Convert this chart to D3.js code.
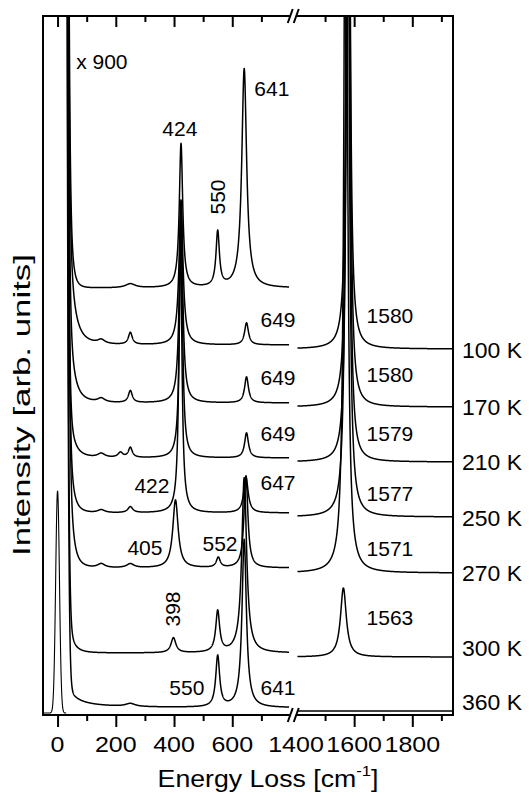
<!DOCTYPE html>
<html>
<head>
<meta charset="utf-8">
<script src="https://cdn.jsdelivr.net/npm/d3@7"></script>
<style>
  body { margin: 0; background: #fff; }
  text { font-family: "Liberation Sans", Arial, Helvetica, sans-serif; fill: #000; }
</style>
</head>
<body>
<svg id="chart" width="529" height="796"></svg>
<script>
// ---- data -------------------------------------------------------------
// Temperature series, stacked from top to bottom
const temperatures = ["100 K", "170 K", "210 K", "250 K", "270 K", "300 K", "360 K"];
// Background level of each spectrum in the low (0-800) and high (1400-1940) windows
const baseLow  = [370, 312, 257, 202, 147, 62, 7];
const baseHigh = [366, 308, 253, 198, 142, 58, 4];
// Quasi-elastic wing: strength at 50 cm-1 and fall-off exponent
const wingAmp = [72, 55, 31, 40, 55, 17, 15];
const wingExp = [3.3, 3.5, 3.4, 4.5, 4.5, 3.5, 1.4];
// Phonon lines per spectrum: [position (cm-1), height, half width (cm-1)]
const peaks = [
  [[150, 4, 15], [250, 12, 8], [424, 145, 8], [649, 22, 8], [1580, 900, 5.5]],
  [[150, 4, 15], [250, 12, 8], [424, 198, 7], [649, 26, 8], [1580, 900, 5.5]],
  [[150, 4, 15], [216, 5, 10], [250, 10, 8], [424, 246, 6], [649, 25, 8], [1579, 900, 5.5]],
  [[150, 3, 15], [250, 6, 10], [422, 283, 6], [647, 36, 9], [1577, 900, 6]],
  [[150, 4, 15], [250, 4, 15], [405, 68, 11], [552, 10, 8], [647, 92, 8], [1571, 900, 6.5]],
  [[398, 15, 10], [550, 41, 8], [641, 175, 10], [1563, 69, 12]],
  [[250, 3, 20], [550, 51, 8], [641, 168, 9]]
];
// Reference spectrum magnified x 900 (low window only)
const refBase = 427;
const refWing = [44, 6];
const refPeaks = [[250, 4, 20], [424, 144, 7], [550, 55, 7], [641, 219, 10]];
// Rayleigh edge shared by all spectra: amplitude and gaussian width (cm-1)
const rayleigh = [30000, 12];
// Laser line profile shown at the bottom: base, height, gaussian width
const laser = [2, 222, 6.5];

// Axis ticks
const lowMajor = [0, 200, 400, 600];
const lowMinor = [100, 300, 500, 700];
const highMajor = [1400, 1600, 1800];
const highMinor = [1500, 1700, 1900];

// Peak annotations: [text, energy (cm-1), intensity level, rotated]
const peakLabels = [
  ["x 900", 152, 654, false],
  ["641", 736, 627, false],
  ["424", 420, 587, false],
  ["550", 548, 518, true],
  ["649", 757, 396, false], ["1580", 1723, 400, false],
  ["649", 757, 338, false], ["1580", 1723, 341, false],
  ["649", 757, 282, false], ["1579", 1723, 282, false],
  ["422", 324, 230, false], ["647", 757, 233, false], ["1577", 1723, 222, false],
  ["405", 300, 168, false], ["552", 558, 172, false], ["1571", 1723, 167, false],
  ["398", 396, 106, true], ["1563", 1723, 98, false],
  ["550", 444, 28, false], ["641", 757, 28, false]
];

// ---- layout -----------------------------------------------------------
const frame = { left: 43, right: 453, top: 16, bottom: 715 };
const breakLow = 290.5, breakHigh = 296;

const xLow = d3.scaleLinear().domain([-50, 800]).range([frame.left, breakLow]);
const xHigh = d3.scaleLinear().domain([1400, 1940]).range([breakHigh, frame.right]);
const xAt = v => (v < 1000 ? xLow(v) : xHigh(v));
const y = d3.scaleLinear().domain([0, 700]).range([715, 15]);

const svg = d3.select("#chart");

svg.append("defs").append("clipPath").attr("id", "plot-clip")
  .append("rect")
  .attr("x", frame.left).attr("y", frame.top)
  .attr("width", frame.right - frame.left).attr("height", frame.bottom - frame.top);

// Text stretched to a given advance width, centred (or left-aligned) on its anchor
function fittedText(parent, x, yPos, width, size, rotate, anchor) {
  const g = parent.append("g")
    .attr("transform", `translate(${x},${yPos})` + (rotate ? ` rotate(${rotate})` : ""));
  const t = g.append("text").attr("font-size", size).attr("text-anchor", anchor || "middle");
  return {
    text: t,
    fit() {
      const w = t.node().getComputedTextLength();
      if (w > 0) t.attr("transform", `scale(${width / w},1)`);
    }
  };
}

// ---- lineshapes --------------------------------------------------------
const lorentz = (v, p) => p[1] * p[2] * p[2] / ((v - p[0]) * (v - p[0]) + p[2] * p[2]);
const edge = v => rayleigh[0] * Math.exp(-(v * v) / (2 * rayleigh[1] * rayleigh[1]));
const wing = (v, a, p) => a * Math.pow(50 / v, p);

function profile(v, base, wa, wp, lines) {
  let s = base + edge(v) + wing(v, wa, wp);
  for (const p of lines) s += lorentz(v, p);
  return s;
}

const lowGrid = d3.range(22, 795.5, 0.5);
const highGrid = d3.range(1405, 1940.5, 0.5);

const line = d3.line().x(d => xAt(d[0])).y(d => y(d[1]));

const traces = svg.append("g").attr("clip-path", "url(#plot-clip)")
  .attr("fill", "none").attr("stroke", "#000").attr("stroke-width", 1.5)
  .attr("stroke-linejoin", "round");

temperatures.forEach((t, i) => {
  const low = lowGrid.map(v => [v, profile(v, baseLow[i], wingAmp[i], wingExp[i], peaks[i])]);
  const high = highGrid.map(v => [v, profile(v, baseHigh[i], 0, 1, peaks[i])]);
  traces.append("path").attr("d", line(low));
  traces.append("path").attr("d", line(high));
});

// magnified reference trace
traces.append("path").attr("d", line(lowGrid.map(v =>
  [v, profile(v, refBase, refWing[0], refWing[1], refPeaks)])));

// laser line
traces.append("path").attr("stroke-width", 1.1).attr("d", line(d3.range(-50, 30, 0.5).map(v =>
  [v, laser[0] + laser[1] * Math.exp(-(v * v) / (2 * laser[2] * laser[2]))])));

// ---- axes --------------------------------------------------------------
function ticks(scale, values, size, yPos) {
  const ax = d3.axisBottom(scale).tickValues(values).tickSize(size).tickFormat("");
  const g = svg.append("g").attr("transform", `translate(0,${yPos})`).call(ax);
  g.select(".domain").remove();
  g.selectAll("line").attr("stroke", "#000").attr("stroke-width", 2);
  return g;
}
[frame.top, frame.bottom].forEach(yPos => {
  const major = yPos === frame.top ? 11 : 12;
  ticks(xLow, lowMajor, major, yPos);
  ticks(xLow, lowMinor, 6, yPos);
  ticks(xHigh, highMajor.filter(v => v > 1400), major, yPos);
  ticks(xHigh, highMinor, 6, yPos);
});

// frame
svg.append("rect")
  .attr("x", frame.left).attr("y", frame.top)
  .attr("width", frame.right - frame.left).attr("height", frame.bottom - frame.top)
  .attr("fill", "none").attr("stroke", "#000").attr("stroke-width", 2);

// axis break marks
[frame.top, frame.bottom].forEach(yPos => {
  const xm = (breakLow + breakHigh) / 2;
  svg.append("rect").attr("x", xm - 3.5).attr("y", yPos - 3).attr("width", 7).attr("height", 6)
    .attr("fill", "#fff");
  [-3, 3].forEach(dx => {
    svg.append("line")
      .attr("x1", xm + dx - 2.5).attr("y1", yPos + 7)
      .attr("x2", xm + dx + 2.5).attr("y2", yPos - 7)
      .attr("stroke", "#000").attr("stroke-width", 2);
  });
});

const fits = [];

// tick labels, each digit about 14 px wide
lowMajor.concat(highMajor).forEach(v => {
  const x = v < 1000 ? xLow(v) : xHigh(v);
  const label = String(v);
  const f = fittedText(svg, x, 752, 13.9 * label.length, 22);
  f.text.text(label);
  fits.push(f);
});

// axis titles
const xTitle = fittedText(svg, 268, 787, 221, 24);
xTitle.text.append("tspan").text("Energy Loss [cm");
xTitle.text.append("tspan").attr("font-size", 15).attr("dy", -11).text("-1");
xTitle.text.append("tspan").attr("dy", 11).text("]");
fits.push(xTitle);

const yTitle = fittedText(svg, 30, 405, 302, 24, -90);
yTitle.text.text("Intensity [arb. units]");
fits.push(yTitle);

// temperature labels at the right end of each trace
const tempNudge = [1, 0, 0, 1, 0, -9, -9];
temperatures.forEach((t, i) => {
  const f = fittedText(svg, frame.right + 9, y(baseHigh[i]) + tempNudge[i] + 8, 60, 22, 0, "start");
  f.text.text(t);
  fits.push(f);
});

fits.forEach(f => f.fit());

// peak annotations
peakLabels.forEach(([txt, v, level, rot]) => {
  const t = svg.append("text")
    .attr("font-size", 21).attr("text-anchor", "middle")
    .attr("dominant-baseline", "central")
    .text(txt);
  if (rot) t.attr("transform", `translate(${xAt(v)},${y(level)}) rotate(-90)`);
  else t.attr("x", xAt(v)).attr("y", y(level));
});
</script>
</body>
</html>
